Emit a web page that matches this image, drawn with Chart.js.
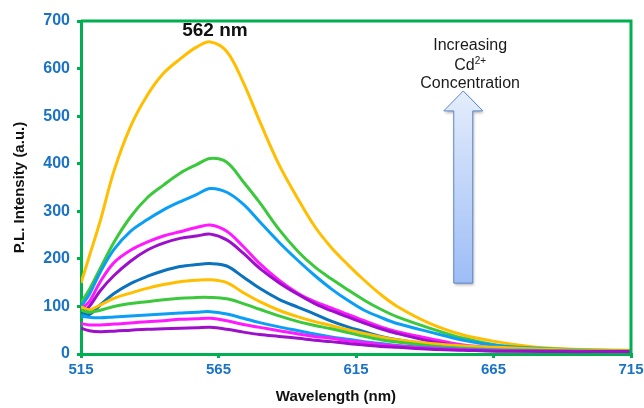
<!DOCTYPE html>
<html>
<head>
<meta charset="utf-8">
<script src="https://cdn.jsdelivr.net/npm/chart.js@4.4.1/dist/chart.umd.min.js"></script>
<style>
  html, body { margin: 0; padding: 0; background: #fff; }
  #wrap { width: 644px; height: 408px; }
</style>
</head>
<body>
<div id="wrap"><canvas id="myChart" width="644" height="408"></canvas></div>
<script>
const wavelengths = [515, 518, 522, 527, 533, 539, 545, 551, 557, 562, 568, 574, 580, 587, 594, 600, 606, 612, 618, 624, 630, 642, 654, 666, 678, 690, 702, 715];

// P.L. intensity, highest Cd2+ concentration first
const orange1 = [149, 205, 280, 385, 478, 543, 590, 620, 645, 656, 636, 571, 489, 398, 325, 268, 224, 188, 155, 125, 100, 64, 40, 26, 16, 11, 9, 8];
const green1 = [108, 135, 180, 235, 288, 328, 355, 380, 398, 411, 403, 362, 318, 262, 215, 183, 158, 135, 113, 94, 78, 54, 33, 19, 13, 10, 8, 7];
const blue1 = [100, 125, 172, 220, 258, 282, 303, 320, 335, 348, 340, 315, 278, 235, 196, 165, 137, 113, 92, 77, 64, 46, 29, 18, 12, 9, 7, 6];
const magenta1 = [95, 110, 152, 192, 218, 235, 248, 257, 266, 271, 258, 226, 190, 155, 127, 110, 97, 83, 70, 57, 47, 32, 19, 13, 10, 8, 7, 6];
const purple1 = [88, 100, 133, 165, 195, 218, 233, 243, 248, 252, 240, 212, 180, 150, 125, 106, 91, 78, 65, 53, 43, 27, 16, 11, 9, 8, 7, 6];
const navy1 = [88, 83, 103, 127, 148, 163, 175, 184, 188, 190, 185, 162, 138, 115, 98, 84, 69, 57, 47, 37, 30, 20, 14, 10, 8, 7, 6, 6];
const orange2 = [99, 93, 103, 117, 128, 138, 146, 152, 155, 156, 150, 129, 110, 92, 78, 68, 60, 51, 43, 36, 30, 22, 17, 14, 11, 9, 8, 7];
const green2 = [92, 88, 92, 100, 106, 110, 114, 117, 119, 119, 116, 106, 94, 80, 68, 60, 53, 45, 37, 30, 25, 17, 12, 9, 8, 7, 6, 6];
const blue2 = [80, 77, 76, 78, 80, 82, 84, 86, 88, 89, 84, 75, 66, 57, 49, 42, 36, 31, 26, 22, 18, 13, 10, 8, 7, 6, 6, 5];
const magenta2 = [64, 61, 61, 63, 65, 68, 70, 73, 74, 75, 70, 62, 56, 49, 42, 37, 33, 28, 24, 20, 17, 12, 9, 7, 6, 6, 5, 5];
const purple2 = [54, 49, 47, 48, 50, 52, 53, 54, 55, 56, 52, 46, 41, 37, 33, 29, 26, 22, 19, 16, 14, 10, 8, 6, 6, 5, 5, 5];

const xTicks = [515, 565, 615, 665, 715];
const yTicks = [0, 100, 200, 300, 400, 500, 600, 700];

const axisGreen = "#00B050";
const tickBlue = "#1A73C4";

// drawn bottom-up: first dataset ends up on top
const series = [
  { data: purple2, color: "#9B10C8" },
  { data: magenta2, color: "#FF19FF" },
  { data: blue2, color: "#0A9EF5" },
  { data: green2, color: "#3CC83C" },
  { data: orange2, color: "#FFBE00" },
  { data: navy1, color: "#0B72BE" },
  { data: purple1, color: "#9B10C8" },
  { data: magenta1, color: "#FF19FF" },
  { data: blue1, color: "#0A9EF5" },
  { data: green1, color: "#3CC83C" },
  { data: orange1, color: "#FFBE00" },
];

const toPoints = (values) => values.map((v, i) => ({ x: wavelengths[i], y: v }));

const extras = {
  id: "extras",
  afterDraw(chart) {
    const { ctx, chartArea: a, scales: { x, y } } = chart;
    ctx.save();

    // top + right frame
    ctx.strokeStyle = axisGreen;
    ctx.lineWidth = 3;
    ctx.beginPath();
    ctx.moveTo(a.left, a.top);
    ctx.lineTo(a.right, a.top);
    ctx.lineTo(a.right, a.bottom);
    ctx.stroke();

    // peak label
    ctx.fillStyle = "#111";
    ctx.font = "bold 19px 'Liberation Sans', Arial, sans-serif";
    ctx.textAlign = "center";
    ctx.textBaseline = "middle";
    ctx.fillText("562 nm", x.getPixelForValue(563.7), y.getPixelForValue(679));

    // arrow
    const cx = x.getPixelForValue(654);
    const tip = y.getPixelForValue(553);
    const base = y.getPixelForValue(511);
    const bottom = y.getPixelForValue(149);
    const shaft = 9.5;
    const head = 19.5;
    ctx.beginPath();
    ctx.moveTo(cx, tip);
    ctx.lineTo(cx + head, base);
    ctx.lineTo(cx + shaft, base);
    ctx.lineTo(cx + shaft, bottom);
    ctx.lineTo(cx - shaft, bottom);
    ctx.lineTo(cx - shaft, base);
    ctx.lineTo(cx - head, base);
    ctx.closePath();
    const grad = ctx.createLinearGradient(0, tip, 0, bottom);
    grad.addColorStop(0, "#E4EDFC");
    grad.addColorStop(1, "#9DBDF6");
    ctx.shadowColor = "rgba(0,0,0,0.3)";
    ctx.shadowBlur = 3;
    ctx.shadowOffsetX = 1;
    ctx.shadowOffsetY = 2;
    ctx.fillStyle = grad;
    ctx.fill();
    ctx.shadowColor = "transparent";
    ctx.strokeStyle = "#5F87C6";
    ctx.lineWidth = 1;
    ctx.stroke();

    // arrow caption
    const tx = x.getPixelForValue(656.5);
    ctx.fillStyle = "#1a1a1a";
    ctx.font = "16px 'Liberation Sans', Arial, sans-serif";
    ctx.fillText("Increasing", tx, y.getPixelForValue(648));
    ctx.fillText("Concentration", tx, y.getPixelForValue(569));
    const cy = y.getPixelForValue(606);
    const cdW = ctx.measureText("Cd").width;
    ctx.font = "10px 'Liberation Sans', Arial, sans-serif";
    const supW = ctx.measureText("2+").width;
    const start = tx - (cdW + supW) / 2;
    ctx.textAlign = "left";
    ctx.font = "16px 'Liberation Sans', Arial, sans-serif";
    ctx.fillText("Cd", start, cy);
    ctx.font = "10px 'Liberation Sans', Arial, sans-serif";
    ctx.fillText("2+", start + cdW, cy - 4);

    // x axis title
    ctx.textAlign = "center";
    ctx.fillStyle = "#111";
    ctx.font = "bold 15px 'Liberation Sans', Arial, sans-serif";
    ctx.fillText("Wavelength (nm)", x.getPixelForValue(607.7), 397);

    ctx.restore();
  },
};

new Chart(document.getElementById("myChart"), {
  type: "line",
  data: {
    datasets: series.map((s) => ({
      data: toPoints(s.data),
      borderColor: s.color,
      borderWidth: 3,
      pointRadius: 0,
      tension: 0.35,
      fill: false,
    })),
  },
  options: {
    responsive: false,
    animation: false,
    layout: { padding: { top: 21, right: 13, left: 0, bottom: 0 } },
    plugins: { legend: { display: false }, tooltip: { enabled: false } },
    scales: {
      x: {
        type: "linear",
        min: 515,
        max: 715,
        afterBuildTicks: (s) => { s.ticks = xTicks.map((v) => ({ value: v })); },
        afterFit: (s) => { s.height = 54; s.paddingLeft = 0; s.paddingRight = 0; },
        ticks: {
          color: tickBlue,
          font: { family: "'Liberation Sans', Arial, sans-serif", size: 15, weight: "bold" },
          padding: 3,
          maxRotation: 0,
        },
        grid: { drawOnChartArea: false, color: axisGreen, lineWidth: 3, tickLength: 4 },
        border: { color: axisGreen, width: 3 },
      },
      y: {
        min: 0,
        max: 700,
        afterBuildTicks: (s) => { s.ticks = yTicks.map((v) => ({ value: v })); },
        afterFit: (s) => { s.width = 81; s.paddingTop = 0; s.paddingBottom = 0; },
        ticks: {
          color: tickBlue,
          font: { family: "'Liberation Sans', Arial, sans-serif", size: 16, weight: "bold" },
          padding: 7,
        },
        grid: { drawOnChartArea: false, color: axisGreen, lineWidth: 3, tickLength: 4 },
        border: { color: axisGreen, width: 3 },
        title: {
          display: true,
          text: "P.L. Intensity (a.u.)",
          color: "#111",
          font: { family: "'Liberation Sans', Arial, sans-serif", size: 15, weight: "bold" },
          padding: { top: 11, bottom: 0 },
        },
      },
    },
  },
  plugins: [extras],
});
</script>
</body>
</html>
